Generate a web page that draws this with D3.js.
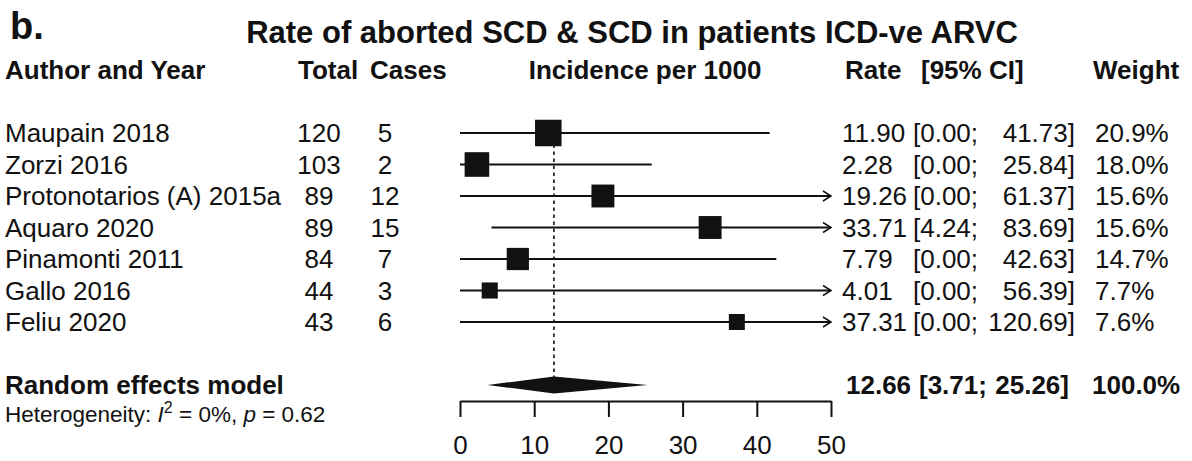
<!DOCTYPE html>
<html>
<head>
<meta charset="utf-8">
<script src="https://cdn.jsdelivr.net/npm/d3@7"></script>
<style>
  body { margin: 0; background: #fff; }
  svg { font-family: "Liberation Sans", Arial, Helvetica, sans-serif; }
  text { white-space: pre; fill: #111; }
</style>
</head>
<body>
<div id="chart"></div>
<script>
const width = 1192;
const height = 461;

const studies = ['Maupain 2018', 'Zorzi 2016', 'Protonotarios (A) 2015a', 'Aquaro 2020',
  'Pinamonti 2011', 'Gallo 2016', 'Feliu 2020'];
const totals = [120, 103, 89, 89, 84, 44, 43];
const cases = [5, 2, 12, 15, 7, 3, 6];
const rates = [11.90, 2.28, 19.26, 33.71, 7.79, 4.01, 37.31];
const lower = [0.00, 0.00, 0.00, 4.24, 0.00, 0.00, 0.00];
const upper = [41.73, 25.84, 61.37, 83.69, 42.63, 56.39, 120.69];
const weights = [20.9, 18.0, 15.6, 15.6, 14.7, 7.7, 7.6];
const pooled = [12.66, 3.71, 25.26, 100.0];
const xTicks = [0, 10, 20, 30, 40, 50];

const svg = d3.select('#chart')
  .append('svg')
  .attr('width', width)
  .attr('height', height);

const x = d3.scaleLinear().domain([0, 50]).range([460, 831]);
const y = d3.scaleLinear().domain([0, 1]).range([133, 164.5]);
const size = d3.scaleSqrt().domain([0, 20.9]).range([0, 26.5]);
const fs = 26;
const base = 9;

svg.append('defs').append('marker')
  .attr('id', 'arrow')
  .attr('markerUnits', 'userSpaceOnUse')
  .attr('markerWidth', 14).attr('markerHeight', 14)
  .attr('viewBox', '-10 -7 14 14')
  .attr('refX', 0).attr('refY', 0)
  .attr('orient', 'auto')
  .append('path')
  .attr('d', 'M-8,-5L0,0L-8,5')
  .attr('fill', 'none')
  .attr('stroke', '#111')
  .attr('stroke-width', 1.5);

// title
svg.append('text')
  .attr('x', 10).attr('y', 39)
  .text('b.')
  .style('font-size', '38px')
  .style('font-weight', 'bold');

svg.append('text')
  .attr('x', 632).attr('y', 43)
  .attr('text-anchor', 'middle')
  .text('Rate of aborted SCD & SCD in patients ICD-ve ARVC')
  .style('font-size', '31px')
  .style('font-weight', 'bold');

// column headers
const headers = [
  { t: 'Author and Year', x: 5, a: 'start' },
  { t: 'Total', x: 298, a: 'start' },
  { t: 'Cases', x: 370, a: 'start' },
  { t: 'Incidence per 1000', x: 645, a: 'middle' },
  { t: 'Rate', x: 845, a: 'start' },
  { t: '[95% CI]', x: 921, a: 'start' },
  { t: 'Weight', x: 1093, a: 'start' }
];
svg.selectAll('.hdr')
  .data(headers)
  .enter()
  .append('text')
  .attr('class', 'hdr')
  .attr('x', d => d.x)
  .attr('y', y(-2) + base)
  .attr('text-anchor', d => d.a)
  .text(d => d.t)
  .style('font-size', fs + 'px')
  .style('font-weight', 'bold');

// reference line at pooled estimate
svg.append('line')
  .attr('x1', x(pooled[0])).attr('x2', x(pooled[0]))
  .attr('y1', y(-0.3)).attr('y2', y(8))
  .attr('stroke', '#111')
  .attr('stroke-width', 1.6)
  .attr('stroke-dasharray', '3.5,3.5');

const rows = svg.selectAll('.study')
  .data(studies)
  .enter()
  .append('g')
  .attr('class', 'study')
  .attr('transform', (d, i) => `translate(0,${y(i)})`);

rows.append('line')
  .attr('x1', (d, i) => x(Math.max(lower[i], 0)))
  .attr('x2', (d, i) => x(Math.min(upper[i], 50)))
  .attr('stroke', '#111')
  .attr('stroke-width', 2)
  .attr('marker-end', (d, i) => upper[i] > 50 ? 'url(#arrow)' : null);

rows.append('rect')
  .attr('x', (d, i) => x(rates[i]) - size(weights[i]) / 2)
  .attr('y', (d, i) => -size(weights[i]) / 2)
  .attr('width', (d, i) => size(weights[i]))
  .attr('height', (d, i) => size(weights[i]))
  .attr('fill', '#111');

const txt = (sel, xp, anchor, f) => sel.append('text')
  .attr('x', xp)
  .attr('y', base)
  .attr('text-anchor', anchor)
  .text(f)
  .style('font-size', fs + 'px');

txt(rows, 5, 'start', d => d);
txt(rows, 319, 'middle', (d, i) => totals[i]);
txt(rows, 385, 'middle', (d, i) => cases[i]);
txt(rows, 842, 'start', (d, i) => rates[i].toFixed(2));
txt(rows, 913, 'start', (d, i) => '[' + lower[i].toFixed(2) + ';');
txt(rows, 1075, 'end', (d, i) => upper[i].toFixed(2) + ']');
txt(rows, 1095, 'start', (d, i) => weights[i].toFixed(1) + '%');

// pooled row
const py = y(8);
svg.append('path')
  .attr('d', d3.line()([
    [x(pooled[1]), py], [x(pooled[0]), py - 8.5],
    [x(pooled[2]), py], [x(pooled[0]), py + 8.5]
  ]) + 'Z')
  .attr('fill', '#111');

const pooledText = [
  { t: 'Random effects model', x: 5, a: 'start' },
  { t: pooled[0].toFixed(2), x: 846, a: 'start' },
  { t: '[' + pooled[1].toFixed(2) + ';', x: 919, a: 'start' },
  { t: pooled[2].toFixed(2) + ']', x: 1069, a: 'end' },
  { t: pooled[3].toFixed(1) + '%', x: 1092, a: 'start' }
];
svg.selectAll('.pooled')
  .data(pooledText)
  .enter()
  .append('text')
  .attr('x', d => d.x)
  .attr('y', py + base)
  .attr('text-anchor', d => d.a)
  .text(d => d.t)
  .style('font-size', fs + 'px')
  .style('font-weight', 'bold');

const het = svg.append('text')
  .attr('x', 5)
  .attr('y', y(9) + 5)
  .style('font-size', '22.5px');
het.append('tspan').text('Heterogeneity: ');
het.append('tspan').text('I').style('font-style', 'italic');
het.append('tspan').text('2').attr('dy', -9).style('font-size', '16px');
het.append('tspan').text(' = 0%, ').attr('dy', 9);
het.append('tspan').text('p').style('font-style', 'italic');
het.append('tspan').text(' = 0.62');

// axis
const axis = svg.append('g')
  .attr('transform', 'translate(0,401)')
  .call(d3.axisBottom(x).tickValues(xTicks).tickSize(16).tickSizeOuter(0).tickPadding(19));
axis.select('.domain').attr('stroke', '#111').attr('stroke-width', 2);
axis.selectAll('.tick line').attr('stroke', '#111').attr('stroke-width', 2);
axis.selectAll('.tick text')
  .style('font-size', fs + 'px')
  .style('font-family', '"Liberation Sans", Arial, sans-serif')
  .attr('fill', '#111');
</script>
</body>
</html>
